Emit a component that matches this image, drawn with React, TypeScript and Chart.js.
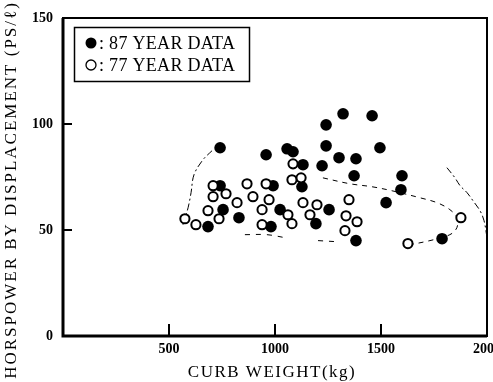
import React, { useEffect, useRef } from "react";
import { Chart, registerables } from "chart.js";

Chart.register(...registerables);

// ---- axes ----
const X_MIN = 0;
const X_MAX = 2000;
const X_STEP = 500;
const Y_MIN = 0;
const Y_MAX = 150;
const Y_STEP = 50;
const innerTicksX = [500, 1000, 1500];
const innerTicksY = [50, 100];

const seriesLabels = ["87 YEAR DATA", "77 YEAR DATA"];
const xTitle = "CURB WEIGHT(kg)";
const yTitle = "HORSPOWER BY DISPLACEMENT (PS/ℓ)";

// ---- 87 year data (filled) ----
const weight87 = [741, 958, 1057, 1085, 1132, 1241, 1321, 1458, 1241, 1302, 1382, 1222, 1495, 1373, 1599, 1594, 1524, 1127, 741, 991, 755, 830, 1024, 1255, 1193, 684, 981, 1382, 1788];
const power87 = [88.8, 85.5, 88.3, 86.9, 80.8, 99.6, 104.8, 103.9, 89.7, 84.1, 83.6, 80.3, 88.8, 75.6, 75.6, 69.0, 62.9, 70.4, 70.9, 70.9, 59.6, 55.8, 59.6, 59.6, 53.0, 51.6, 51.6, 45.0, 45.9];

// ---- 77 year data (open) ----
const weight77 = [1085, 1080, 1123, 708, 708, 769, 868, 958, 896, 972, 821, 684, 736, 939, 1061, 1080, 1132, 1198, 1165, 575, 627, 939, 1349, 1335, 1387, 1330, 1627, 1877];
const power77 = [81.2, 73.7, 74.6, 70.9, 65.7, 67.1, 71.8, 71.8, 65.7, 64.3, 62.9, 59.1, 55.3, 59.6, 57.2, 53.0, 62.9, 61.9, 57.2, 55.3, 52.5, 52.5, 64.3, 56.7, 53.9, 49.7, 43.6, 55.8];

// ---- envelope curves (faint dashed lines) ----
const outerLeftW = [566, 590, 604, 618, 660, 703];
const outerLeftP = [52.5, 60.5, 67.6, 76.1, 83.1, 87.4];
const outerRightW = [1811, 1849, 1873, 1906, 1934, 1967, 1986, 2000];
const outerRightP = [79.4, 74.6, 70.9, 67.6, 63.8, 59.1, 54.4, 46.4];
const innerW = [1226, 1354, 1458, 1552, 1684, 1764, 1825, 1858, 1858, 1825, 1731, 1613];
const innerP = [74.6, 71.8, 70.4, 68.5, 65.2, 62.9, 59.6, 55.8, 51.1, 47.8, 45.0, 42.6];
const bottomAW = [858, 962, 1047];
const bottomAP = [47.8, 47.8, 46.4];
const bottomBW = [1203, 1288];
const bottomBP = [45.0, 44.5];

const SERIF = "'Liberation Serif', 'Times New Roman', serif";

const zip = (xs: number[], ys: number[]) => xs.map((x, i) => ({ x, y: ys[i] }));

const framePlugin = {
  id: "frameAndExtras",
  afterDraw(chart: any) {
    const { ctx, chartArea, scales } = chart;
    const { left, right, top, bottom } = chartArea;
    ctx.save();
    ctx.strokeStyle = "#000";
    // frame
    ctx.lineWidth = 2;
    ctx.strokeRect(left, top, right - left, bottom - top);
    ctx.lineWidth = 3;
    ctx.beginPath();
    ctx.moveTo(left, top);
    ctx.lineTo(left, bottom);
    ctx.lineTo(right, bottom);
    ctx.stroke();
    // inner ticks
    ctx.lineWidth = 2;
    ctx.beginPath();
    innerTicksY.forEach((v) => {
      const y = scales.y.getPixelForValue(v);
      ctx.moveTo(left, y);
      ctx.lineTo(left + 9, y);
    });
    innerTicksX.forEach((v) => {
      const x = scales.x.getPixelForValue(v);
      ctx.moveTo(x, bottom);
      ctx.lineTo(x, bottom - 12);
    });
    ctx.stroke();

    // legend box
    const d0 = chart.data.datasets[0];
    const d1 = chart.data.datasets[1];
    ctx.lineWidth = 1.5;
    ctx.strokeRect(74.5, 27.5, 175, 54);
    ctx.fillStyle = d0.backgroundColor;
    ctx.beginPath();
    ctx.arc(91, 43, 5.5, 0, Math.PI * 2);
    ctx.fill();
    ctx.fillStyle = "#fff";
    ctx.strokeStyle = d1.borderColor;
    ctx.lineWidth = 1.3;
    ctx.beginPath();
    ctx.arc(91, 65, 5, 0, Math.PI * 2);
    ctx.fill();
    ctx.stroke();
    ctx.fillStyle = "#000";
    ctx.font = `18px ${SERIF}`;
    ctx.textBaseline = "middle";
    ctx.textAlign = "left";
    (ctx as any).letterSpacing = "0.3px";
    ctx.fillText(": " + d0.label, 99, 44);
    ctx.fillText(": " + d1.label, 99, 66);

    // axis titles
    ctx.font = `17px ${SERIF}`;
    (ctx as any).letterSpacing = "1.5px";
    ctx.textAlign = "center";
    ctx.fillText(xTitle, 272, 373);
    ctx.save();
    ctx.translate(12, 190);
    ctx.rotate(-Math.PI / 2);
    (ctx as any).letterSpacing = "2px";
    ctx.fillText(yTitle, 0, 0);
    ctx.restore();
    (ctx as any).letterSpacing = "0px";
    ctx.restore();
  },
};

export default function App() {
  const canvasRef = useRef<HTMLCanvasElement | null>(null);

  useEffect(() => {
    document.body.style.margin = "0";
    const canvas = canvasRef.current;
    if (!canvas) return;
    const chart = new Chart(canvas, {
      type: "scatter",
      data: {
        datasets: [
          {
            label: seriesLabels[0],
            data: zip(weight87, power87),
            backgroundColor: "#000",
            borderColor: "#000",
            borderWidth: 0,
            pointRadius: 5.8,
            order: 2,
          },
          {
            label: seriesLabels[1],
            data: zip(weight77, power77),
            backgroundColor: "#fff",
            borderColor: "#000",
            borderWidth: 2,
            pointRadius: 4.6,
            order: 1,
          },
          ...[
            [outerLeftW, outerLeftP, [7, 3, 2, 3]],
            [outerRightW, outerRightP, [7, 3, 2, 3]],
            [innerW, innerP, [5, 5]],
            [bottomAW, bottomAP, [5, 6]],
            [bottomBW, bottomBP, [5, 6]],
          ].map(([w, p, dash]: any) => ({
            label: "",
            data: zip(w, p),
            showLine: true,
            borderColor: "#000",
            borderWidth: 1,
            borderDash: dash,
            pointRadius: 0,
            tension: 0.35,
            order: 3,
          })),
        ],
      },
      options: {
        animation: false,
        responsive: true,
        maintainAspectRatio: false,
        layout: { autoPadding: false, padding: { left: 0, right: 6, top: 18, bottom: 0 } },
        plugins: {
          legend: { display: false },
          tooltip: { enabled: false },
        },
        scales: {
          x: {
            type: "linear",
            min: X_MIN,
            max: X_MAX,
            grid: { display: false, drawTicks: false },
            border: { display: false },
            afterFit: (s: any) => {
              s.height = 46;
              s.paddingLeft = 0;
              s.paddingRight = 0;
            },
            ticks: {
              stepSize: X_STEP,
              autoSkip: false,
              maxRotation: 0,
              padding: 5,
              color: "#000",
              font: { family: SERIF, size: 14, weight: "bold" },
              callback: (v: any) => (v === 0 ? "" : String(v)),
            },
          },
          y: {
            type: "linear",
            min: Y_MIN,
            max: Y_MAX,
            grid: { display: false, drawTicks: false },
            border: { display: false },
            afterFit: (s: any) => {
              s.width = 63;
              s.paddingTop = 0;
              s.paddingBottom = 0;
            },
            ticks: {
              stepSize: Y_STEP,
              autoSkip: false,
              padding: 10,
              color: "#000",
              font: { family: SERIF, size: 14, weight: "bold" },
            },
          },
        },
      },
      plugins: [framePlugin],
    });
    return () => chart.destroy();
  }, []);

  return (
    <div style={{ position: "fixed", left: 0, top: 0, width: 493, height: 382, background: "#fff" }}>
      <canvas ref={canvasRef} />
    </div>
  );
}
